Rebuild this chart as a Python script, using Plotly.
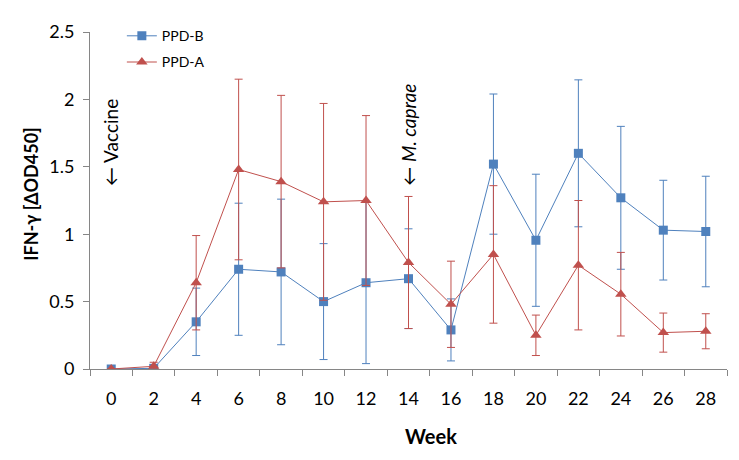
import plotly.graph_objects as go

weeks = ["0", "2", "4", "6", "8", "10", "12", "14", "16", "18", "20", "22", "24", "26", "28"]
ppd_b = [0.0, 0.005, 0.35, 0.74, 0.72, 0.50, 0.64, 0.67, 0.29, 1.52, 0.955, 1.60, 1.27, 1.03, 1.02]
ppd_b_err = [0.0, 0.0, 0.25, 0.49, 0.54, 0.43, 0.60, 0.37, 0.23, 0.52, 0.49, 0.545, 0.53, 0.37, 0.41]
ppd_a = [0.0, 0.02, 0.64, 1.48, 1.39, 1.24, 1.25, 0.79, 0.48, 0.85, 0.25, 0.77, 0.555, 0.27, 0.28]
ppd_a_err = [0.0, 0.03, 0.35, 0.67, 0.64, 0.73, 0.63, 0.49, 0.32, 0.51, 0.15, 0.48, 0.31, 0.145, 0.13]
y_ticks = [0, 0.5, 1, 1.5, 2, 2.5]
y_tick_labels = ["0", "0.5", "1", "1.5", "2", "2.5"]

blue = "#4F81BD"
red = "#C0504D"
axis_col = "#868686"
font = "Lato"

fig = go.Figure()
fig.add_trace(go.Scatter(
    x=weeks, y=ppd_b, name="PPD-B", mode="lines+markers",
    line=dict(color=blue, width=1),
    marker=dict(symbol="square", size=9, color=blue),
    error_y=dict(type="data", array=ppd_b_err, color=blue, thickness=1, width=4),
    legendgroup="b",
))
fig.add_trace(go.Scatter(
    x=weeks, y=ppd_a, name="PPD-A", mode="lines+markers",
    line=dict(color=red, width=1),
    marker=dict(symbol="triangle-up", size=10, color=red),
    error_y=dict(type="data", array=ppd_a_err, color=red, thickness=1, width=4),
    legendgroup="a",
))

fig.add_annotation(x=weeks.index("0"), y=1.34, xref="x", yref="y", text="\u2190 Vaccine",
                   textangle=-90, showarrow=False, yanchor="bottom",
                   font=dict(family=font, size=19, color="black"))
fig.add_annotation(x=weeks.index("14"), y=1.34, xref="x", yref="y", text="\u2190 <i>M. caprae</i>",
                   textangle=-90, showarrow=False, yanchor="bottom",
                   font=dict(family=font, size=19, color="black"))

fig.add_annotation(x=-0.093, y=0.519, xref="paper", yref="paper", text="<b>IFN-\u03b3 [\u0394OD450]</b>",
                   textangle=-90, showarrow=False, xanchor="center", yanchor="middle",
                   font=dict(family=font, size=18, color="black"))
fig.add_annotation(x=0.535, y=-0.198, xref="paper", yref="paper", text="<b>Week</b>",
                   showarrow=False, xanchor="center", yanchor="middle",
                   font=dict(family=font, size=20, color="black"))

fig.update_layout(
    width=739, height=460,
    margin=dict(l=82, r=20, t=18, b=99),
    paper_bgcolor="white", plot_bgcolor="white",
    font=dict(family=font, size=16, color="black"),
    showlegend=True,
    legend=dict(x=0.05, y=1.035, xanchor="left", yanchor="top",
                font=dict(family=font, size=14, color="black"),
                bgcolor="rgba(0,0,0,0)", tracegroupgap=5),
    xaxis=dict(type="category", range=[-0.5, 14.5], showline=True, linecolor=axis_col,
               linewidth=1, ticks="outside", tickson="boundaries", ticklen=6,
               tickcolor=axis_col, showgrid=False, zeroline=False, ticklabelstandoff=13,
               tickfont=dict(family=font, size=18, color="black")),
    yaxis=dict(range=[0, 2.5], tickvals=y_ticks, ticktext=y_tick_labels,
               showline=True, linecolor=axis_col, linewidth=1, ticks="outside",
               ticklen=6, tickcolor=axis_col, showgrid=False, zeroline=False,
               ticklabelstandoff=5,
               tickfont=dict(family=font, size=18, color="black")),
)

fig.write_html("out.html")
